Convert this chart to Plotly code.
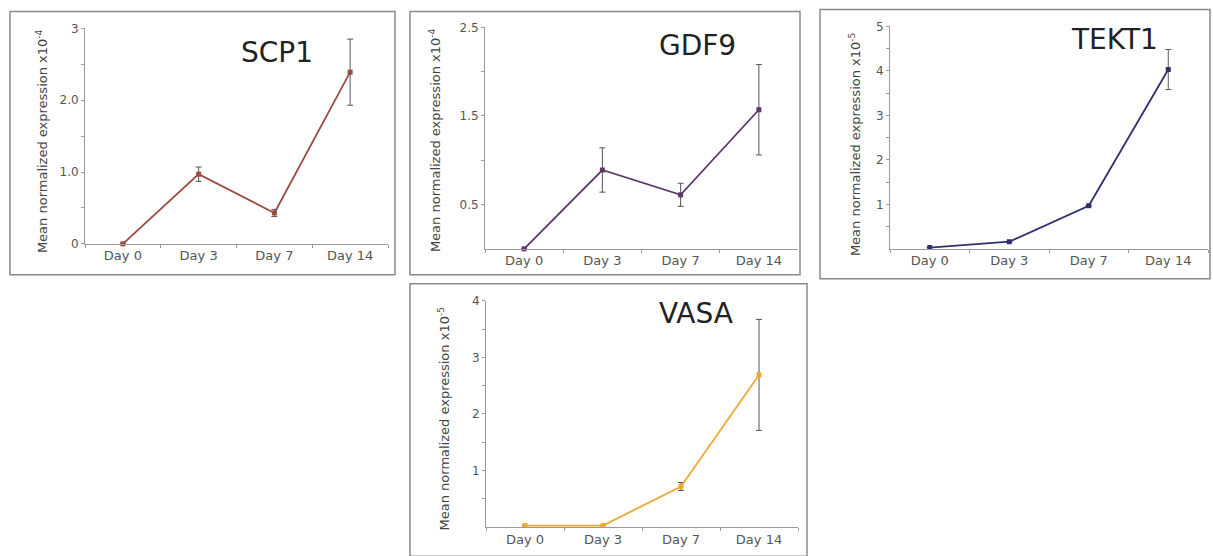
import plotly.graph_objects as go

W, H = 1213, 556

days = ["Day 0", "Day 3", "Day 7", "Day 14"]

scp1_mean = [0.0, 0.97, 0.43, 2.39]
scp1_err = [0.0, 0.10, 0.05, 0.46]

gdf9_mean = [0.0, 0.89, 0.61, 1.57]
gdf9_err = [0.0, 0.25, 0.13, 0.51]

tekt1_mean = [0.03, 0.16, 0.97, 4.03]
tekt1_err = [0.0, 0.0, 0.0, 0.45]

vasa_mean = [0.03, 0.03, 0.72, 2.69]
vasa_err = [0.0, 0.0, 0.07, 0.98]

scp1_ticks = [0, 1, 2, 3]
scp1_ticktext = ["0", "1.0", "2.0", "3"]
gdf9_ticks = [0.5, 1.5, 2.5]
gdf9_ticktext = ["0.5", "1.5", "2.5"]
tekt1_ticks = [1, 2, 3, 4, 5]
tekt1_ticktext = ["1", "2", "3", "4", "5"]
vasa_ticks = [1, 2, 3, 4]
vasa_ticktext = ["1", "2", "3", "4"]


def sy(v):
    # compensate the vertical offset/scale observed in the rendered screenshot
    return (v - 5.6) / 0.977


panels = [
    dict(name="SCP1", mean=scp1_mean, err=scp1_err, color="#9c4a42",
         ticks=scp1_ticks, ticktext=scp1_ticktext, minor=[0.5, 1.5, 2.5], yr=[0, 3],
         xpx=(85, 388), ypx=(243, 27), box=(10, 10, 395, 274),
         title_xy=(277, 51), ylab_xy=(42, 140), exp="-4"),
    dict(name="GDF9", mean=gdf9_mean, err=gdf9_err, color="#5a3868",
         ticks=gdf9_ticks, ticktext=gdf9_ticktext, minor=[1.0, 2.0], yr=[0, 2.5],
         xpx=(485, 798), ypx=(248, 26), box=(410, 10, 800, 274),
         title_xy=(697, 44), ylab_xy=(435, 139), exp="-4"),
    dict(name="TEKT1", mean=tekt1_mean, err=tekt1_err, color="#30306e",
         ticks=tekt1_ticks, ticktext=tekt1_ticktext, minor=[0.5, 1.5, 2.5, 3.5, 4.5], yr=[0, 5],
         xpx=(890, 1208), ypx=(248, 25), box=(820, 8, 1210, 278),
         title_xy=(1114, 38), ylab_xy=(855, 143), exp="-5"),
    dict(name="VASA", mean=vasa_mean, err=vasa_err, color="#f0a830",
         ticks=vasa_ticks, ticktext=vasa_ticktext, minor=[0.5, 1.5, 2.5, 3.5], yr=[0, 4],
         xpx=(486, 798), ypx=(527, 300), box=(410, 283, 807, 556),
         title_xy=(696, 313), ylab_xy=(444, 418), exp="-5"),
]

fig = go.Figure()
shapes = []
annotations = []
layout_axes = {}
font_family = "DejaVu Sans, Arial, sans-serif"

for i, p in enumerate(panels, start=1):
    xa = "x" if i == 1 else f"x{i}"
    ya = "y" if i == 1 else f"y{i}"
    fig.add_trace(go.Scatter(
        x=days, y=p["mean"], xaxis=xa, yaxis=ya, mode="lines+markers",
        line=dict(color=p["color"], width=1.8),
        marker=dict(color=p["color"], size=5, symbol="square"),
        error_y=dict(type="data", array=p["err"], visible=True,
                     color="#555555", thickness=1, width=3),
        showlegend=False, cliponaxis=False,
    ))
    x0, x1 = p["xpx"]
    yb, yt = sy(p["ypx"][0]), sy(p["ypx"][1])
    xkey = "xaxis" if i == 1 else f"xaxis{i}"
    ykey = "yaxis" if i == 1 else f"yaxis{i}"
    layout_axes[xkey] = dict(
        domain=[x0 / W, x1 / W], anchor=ya, type="category",
        categoryorder="array", categoryarray=days, range=[-0.5, 3.5],
        showline=True, linecolor="#9a9a9a", linewidth=1,
        ticks="outside", tickson="boundaries", ticklen=3, tickcolor="#9a9a9a",
        showgrid=False, zeroline=False, fixedrange=True,
        tickfont=dict(size=13, color="#555555", family=font_family),
    )
    layout_axes[ykey] = dict(
        domain=[max(0, 1 - yb / H), min(1, 1 - yt / H)], anchor=xa, range=p["yr"],
        showline=True, linecolor="#9a9a9a", linewidth=1,
        tickmode="array", tickvals=p["ticks"], ticktext=p["ticktext"],
        ticks="outside", ticklen=3, tickcolor="#9a9a9a",
        minor=dict(tickvals=p["minor"], ticks="outside", ticklen=3, tickcolor="#9a9a9a"),
        showgrid=False, zeroline=False, fixedrange=True,
        tickfont=dict(size=12, color="#555555", family=font_family),
    )
    bx0, by0, bx1, by1 = p["box"]
    shapes.append(dict(type="rect", xref="paper", yref="paper",
                       x0=bx0 / W, x1=bx1 / W, y0=1 - sy(by1) / H, y1=1 - sy(by0) / H,
                       line=dict(color="#8a8a8a", width=1.5)))
    tx, ty = p["title_xy"]
    annotations.append(dict(text=p["name"], xref="paper", yref="paper",
                            x=tx / W, y=1 - sy(ty) / H, showarrow=False,
                            xanchor="center", yanchor="middle",
                            font=dict(size=28, color="#222222", family=font_family)))
    lx, ly = p["ylab_xy"]
    annotations.append(dict(text=f"Mean normalized expression x10<sup>{p['exp']}</sup>",
                            xref="paper", yref="paper",
                            x=lx / W, y=1 - sy(ly) / H,
                            showarrow=False, textangle=-90,
                            xanchor="center", yanchor="middle",
                            font=dict(size=13, color="#444444", family=font_family)))

fig.update_layout(
    width=W, height=H, margin=dict(l=0, r=0, t=0, b=0),
    paper_bgcolor="white", plot_bgcolor="white",
    shapes=shapes, annotations=annotations, **layout_axes,
)

fig.write_html("out.html", config={"displayModeBar": False},
               post_script="document.body.style.margin='0';document.body.style.overflow='hidden';")
